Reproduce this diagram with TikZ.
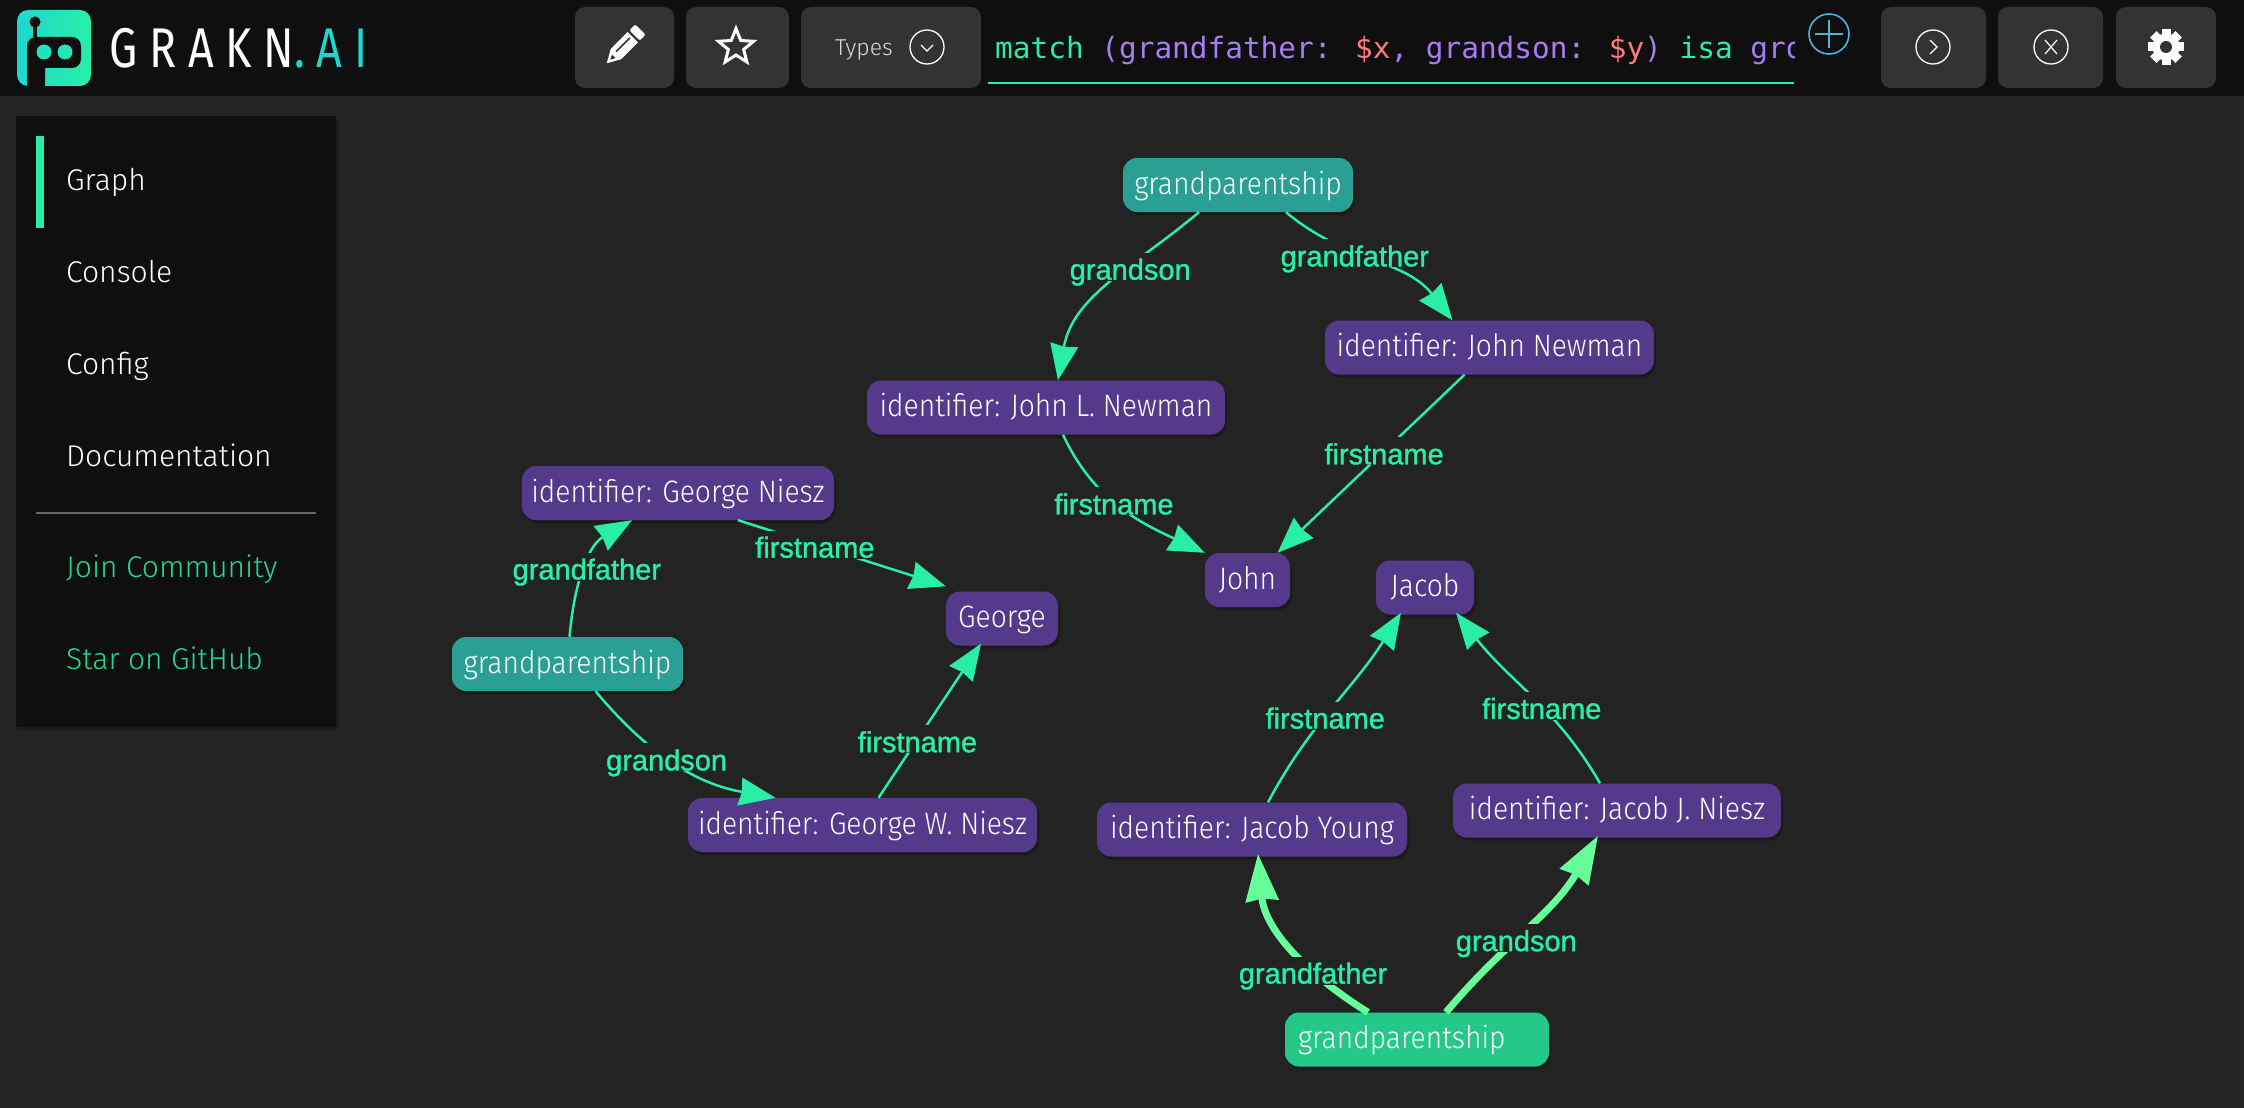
\documentclass[tikz,border=0pt]{standalone}
\usepackage{fontspec}
\usetikzlibrary{shapes,arrows.meta,shadows}
\newfontfamily\uifont{Fira Sans Light}
\newfontfamily\nodefont[FakeStretch=0.91]{Fira Sans Light}
\newfontfamily\lblfont[FakeBold=1.2]{Liberation Sans}
\newfontfamily\codefont{DejaVu Sans Mono}
\newfontfamily\logofont[FakeStretch=0.8,LetterSpace=21]{Fira Sans}
\definecolor{backg}{HTML}{232323}
\definecolor{panel}{HTML}{0F0F0F}
\definecolor{btn}{HTML}{333333}
\definecolor{attr}{HTML}{553A8C}
\definecolor{rel}{HTML}{2A9F94}
\definecolor{relsel}{HTML}{24C98A}
\definecolor{mint}{HTML}{29EFA6}
\definecolor{mintsel}{HTML}{66FF99}
\definecolor{logoteal}{HTML}{1FD6CF}
\definecolor{violetq}{HTML}{A57EF0}
\definecolor{redq}{HTML}{FF7A7A}
\definecolor{plusb}{HTML}{4FB4D8}

\begin{document}
\begin{tikzpicture}[x=1pt,y=-1pt,every node/.style={inner sep=0pt}]
  \tikzstyle{softshadow}=[drop shadow={fill=black,opacity=.25,shadow xshift=2pt,shadow yshift=-3pt}]
  \tikzstyle{box}=[rounded corners=14pt, text=white, font=\nodefont\fontsize{31}{36}\selectfont, text height=24pt, text depth=6pt, minimum height=54pt, softshadow]
  \tikzstyle{item}=[fill=attr, box]
  \tikzstyle{relation}=[fill=rel, box]
  \tikzstyle{edge}=[draw=mint, line width=2.5pt, -{Stealth[length=36pt,width=28pt,inset=2pt]}]
  \tikzstyle{edgesel}=[draw=mintsel, line width=7pt, -{Stealth[length=47pt,width=32pt,inset=2pt]}]
  \tikzstyle{lab}=[fill=backg, text=mint, font=\lblfont\fontsize{29}{32}\selectfont, text height=27pt, text depth=1pt, inner xsep=1pt]
  \tikzstyle{toolbtn}=[fill=btn, rounded corners=10pt, minimum height=81pt]
  \tikzstyle{ring}=[draw=white, circle, line width=1.3pt, minimum size=34pt]
  \tikzstyle{sideitem}=[anchor=base west, text=white, font=\uifont\fontsize{30}{36}\selectfont]
  \useasboundingbox (0,0) rectangle (2244,1108);
  \fill[backg] (0,0) rectangle (2244,1108);
  % top bar
  \fill[panel] (0,0) rectangle (2244,96);
  \fill[left color=logoteal, right color=mint, rounded corners=11pt] (17,10) rectangle (91,86);
  \fill[panel] (27,86) -- (27,50) [rounded corners=9pt] -- (27,37) -- (81,37) -- (81,68) [sharp corners] -- (45,68) -- (45,86) -- cycle;
  \fill[panel] (33,37) rectangle (37,22);
  \fill[panel] (35,22) circle (5.5);
  \fill[logoteal!60!mint] (44,52) circle (7.5);
  \fill[logoteal!40!mint] (65,52) circle (7.5);
  \node[anchor=base west, text=white, font=\logofont\fontsize{56}{60}\selectfont] (logo) at (109,68) {GRAKN\textcolor{logoteal}{.AI}};
  \node[toolbtn, minimum width=99pt] (edit) at (624.5,47.5) {};
  \node[toolbtn, minimum width=103pt] (fav) at (737.5,47.5) {};
  \node[toolbtn, minimum width=180pt] (types) at (891,47.5) {};
  \node[toolbtn, minimum width=105pt] (run) at (1933.5,47.5) {};
  \node[toolbtn, minimum width=105pt] (clear) at (2050.5,47.5) {};
  \node[toolbtn, minimum width=100pt] (settings) at (2166,47.5) {};
  % pencil
  \begin{scope}[shift={(623,47)}, rotate=-45, scale=.82]
    \fill[white, rounded corners=2pt] (-9,-30) rectangle (9,-20);
    \fill[white] (-9,-17) -- (9,-17) -- (9,12) -- (0,28) -- (-9,12) -- cycle;
    \fill[btn] (-3,-14) rectangle (-1,10);
    \fill[btn] (-3,16) -- (3,16) -- (0,22) -- cycle;
  \end{scope}
  % star
  \node[star, star points=5, star point ratio=2.3, draw=white, line width=3pt, minimum size=37pt] (stargl) at (736,47) {};
  % dropdown
  \node[text=white!85!black, font=\uifont\fontsize{23}{26}\selectfont] (typeslbl) at (864,50) {Types};
  \node[ring] (typesring) at (927,47) {};
  \draw[white, line width=1.2pt] ([shift={(-6,-2)}]typesring.center) -- ([shift={(0,4)}]typesring.center) -- ([shift={(6,-2)}]typesring.center);
  % query
  \begin{scope}
    \clip (988,0) rectangle (1794,96);
    \node[anchor=base west, font=\codefont\fontsize{29.4}{34}\selectfont] (query) at (995,59) {\textcolor{mint}{match} \textcolor{violetq}{(grandfather:} \textcolor{redq}{\$x}\textcolor{violetq}{, grandson:} \textcolor{redq}{\$y}\textcolor{violetq}{)} \textcolor{mint}{isa} \textcolor{violetq}{gro}};
  \end{scope}
  \draw[mint, line width=2.5pt] (988,83) -- (1794,83);
  \node[circle, draw=plusb, line width=1.6pt, minimum size=40pt] (plus) at (1829,34) {};
  \draw[plusb, line width=1.6pt] ([xshift=-14pt]plus.center) -- ([xshift=14pt]plus.center) ([yshift=-14pt]plus.center) -- ([yshift=14pt]plus.center);
  \node[ring] (runring) at (1933,47) {};
  \draw[white, line width=1.2pt] ([shift={(-3,-7)}]runring.center) -- ([shift={(4,0)}]runring.center) -- ([shift={(-3,7)}]runring.center);
  \node[ring] (clearring) at (2051,47) {};
  \draw[white, line width=1.2pt] ([shift={(-6,-7)}]clearring.center) -- ([shift={(6,7)}]clearring.center) ([shift={(6,-7)}]clearring.center) -- ([shift={(-6,7)}]clearring.center);
  % gear
  \fill[white] (2166,47) circle (13.5);
  \foreach \a in {0,45,...,315} {
    \fill[white, shift={(2166,47)}, rotate=\a] (-4.5,-18) rectangle (4.5,-8);
  }
  \fill[btn] (2166,47) circle (6);
  % side menu
  \fill[panel, softshadow] (16,116) rectangle (336,727);
  \fill[mint] (36,136) rectangle (44,228);
  \node[sideitem] (sgraph) at (66,190) {Graph};
  \node[sideitem] (sconsole) at (66,282) {Console};
  \node[sideitem] (sconfig) at (66,374) {Config};
  \node[sideitem] (sdoc) at (66,466) {Documentation};
  \draw[white!40!black, line width=1.5pt] (36,513) -- (316,513);
  \node[sideitem, text=mint!90!black] (sjoin) at (66,577) {Join Community};
  \node[sideitem, text=mint!90!black] (sstar) at (66,669) {Star on GitHub};
  % graph nodes
  \node[relation, minimum width=230pt] (grelA) at (1238,185) {grandparentship};
  \node[item, minimum width=329pt] (idJN) at (1489.5,347.5) {identifier: John Newman};
  \node[item, minimum width=358pt] (idJLN) at (1046,407.5) {identifier: John L. Newman};
  \node[item, minimum width=85pt] (john) at (1247.5,580) {John};
  \node[item, minimum width=98pt] (jacob) at (1425,587.5) {Jacob};
  \node[item, minimum width=312pt] (idGN) at (678,493) {identifier: George Niesz};
  \node[item, minimum width=112pt] (george) at (1002,618.5) {George};
  \node[relation, minimum width=231pt] (grelB) at (567.5,664) {grandparentship};
  \node[item, minimum width=349pt] (idGWN) at (862.5,825) {identifier: George W. Niesz};
  \node[item, minimum width=310pt] (idJY) at (1252,829.5) {identifier: Jacob Young};
  \node[item, minimum width=328pt] (idJJN) at (1617,810.5) {identifier: Jacob J. Niesz};
  \node[box, fill=relsel, minimum width=264pt, text width=238pt, align=left, inner xsep=13pt] (grelC) at (1417,1039.5) {grandparentship};
  % graph edges
  \draw[edge] ([xshift=-39pt]grelA.south) to[out=-140, in=80] node[lab, pos=.37] (l1) {grandson} ([xshift=12pt]idJLN.north);
  \draw[edge] ([xshift=48pt]grelA.south) to[out=-40, in=128] node[lab, pos=.39] (l2) {grandfather} ([xshift=-37pt]idJN.north);
  \draw[edge] ([xshift=17pt]idJLN.south) to[out=-65, in=155] node[lab, pos=.45] (l3) {firstname} (john.north west);
  \draw[edge] ([xshift=-25pt]idJN.south) -- node[lab, pos=.43] (l4) {firstname} ([xshift=30pt]john.north);
  \draw[edge] ([xshift=2pt]grelB.north) to[out=85, in=-150] node[lab, pos=.52] (l5) {grandfather} ([xshift=-46pt]idGN.south);
  \draw[edge] ([xshift=60pt]idGN.south) -- node[lab, pos=.37] (l6) {firstname} ([yshift=5pt]george.north west);
  \draw[edge] ([xshift=28pt]grelB.south) to[out=-50, in=170] node[lab, pos=.45] (l7) {grandson} ([xshift=-87pt]idGWN.north);
  \draw[edge] ([xshift=16pt]idGWN.north) -- node[lab, pos=.38] (l8) {firstname} ([xshift=-21pt,yshift=2pt]george.south);
  \draw[edge] ([xshift=16pt]idJY.north) to[out=62, in=-122] node[lab, pos=.445] (l9) {firstname} ([xshift=-24pt,yshift=2pt]jacob.south);
  \draw[edge] ([xshift=-17pt]idJJN.north) to[out=120, in=-52] node[lab, pos=.43] (l10) {firstname} ([xshift=31pt,yshift=2pt]jacob.south);
  \draw[edgesel] ([xshift=-49pt]grelC.north) to[out=148, in=-85] node[lab, pos=.33] (l11) {grandfather} ([xshift=6pt,yshift=3pt]idJY.south);
  \draw[edgesel] ([xshift=29pt]grelC.north) to[out=50, in=-120] node[lab, pos=.43] (l12) {grandson} ([xshift=-19pt,yshift=2pt]idJJN.south);
\end{tikzpicture}
\end{document}
